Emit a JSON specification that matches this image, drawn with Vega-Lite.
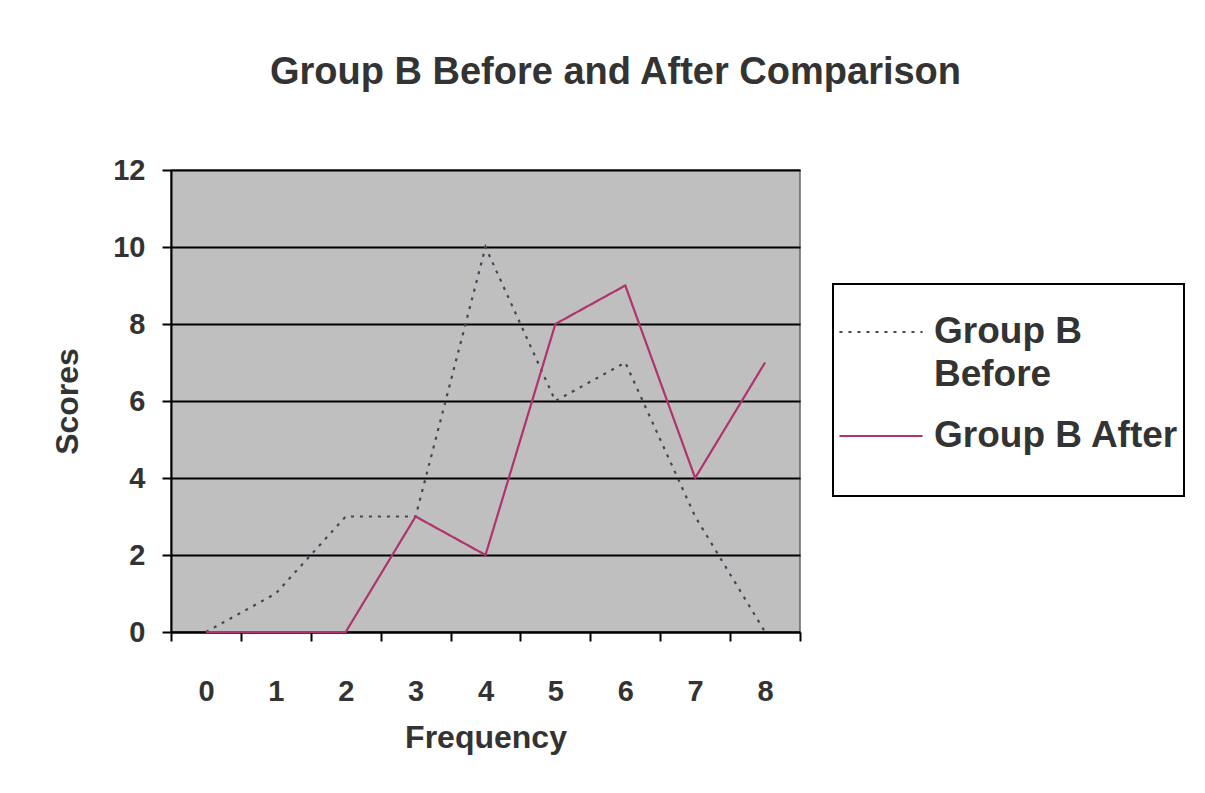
{
  "$schema": "https://vega.github.io/schema/vega-lite/v6.json",
  "autosize": "none",
  "padding": {"left": 171, "top": 170, "right": 405, "bottom": 161},
  "width": 629,
  "height": 462,
  "background": "white",
  "title": {
    "text": "Group B Before and After Comparison",
    "font": "Liberation Sans",
    "fontSize": 38,
    "fontWeight": "bold",
    "color": "#333333",
    "anchor": "middle",
    "frame": "group",
    "dx": 130,
    "offset": 64
  },
  "data": {
    "values": [
      {"freq": 0, "series": "Group B Before", "score": 0},
      {"freq": 1, "series": "Group B Before", "score": 1},
      {"freq": 2, "series": "Group B Before", "score": 3},
      {"freq": 3, "series": "Group B Before", "score": 3},
      {"freq": 4, "series": "Group B Before", "score": 10},
      {"freq": 5, "series": "Group B Before", "score": 6},
      {"freq": 6, "series": "Group B Before", "score": 7},
      {"freq": 7, "series": "Group B Before", "score": 3},
      {"freq": 8, "series": "Group B Before", "score": 0},
      {"freq": 0, "series": "Group B After", "score": 0},
      {"freq": 1, "series": "Group B After", "score": 0},
      {"freq": 2, "series": "Group B After", "score": 0},
      {"freq": 3, "series": "Group B After", "score": 3},
      {"freq": 4, "series": "Group B After", "score": 2},
      {"freq": 5, "series": "Group B After", "score": 8},
      {"freq": 6, "series": "Group B After", "score": 9},
      {"freq": 7, "series": "Group B After", "score": 4},
      {"freq": 8, "series": "Group B After", "score": 7}
    ]
  },
  "mark": {"type": "line", "strokeWidth": 2.2},
  "encoding": {
    "x": {
      "field": "freq",
      "type": "quantitative",
      "scale": {"domain": [-0.5, 8.5], "nice": false, "zero": false},
      "axis": {
        "title": "Frequency",
        "values": [-0.5, 0, 0.5, 1, 1.5, 2, 2.5, 3, 3.5, 4, 4.5, 5, 5.5, 6, 6.5, 7, 7.5, 8, 8.5],
        "labelExpr": "datum.value % 1 == 0 ? format(datum.value, 'd') : ''",
        "tickOpacity": {"condition": {"test": "datum.value % 1 != 0", "value": 1}, "value": 0},
        "grid": false,
        "tickSize": 9,
        "tickWidth": 2,
        "tickColor": "black",
        "domainColor": "black",
        "domainWidth": 2,
        "labelPadding": 36,
        "labelFont": "Liberation Sans",
        "labelFontSize": 29,
        "labelFontWeight": "bold",
        "labelColor": "#333333",
        "labelFlush": false,
        "labelOverlap": false,
        "titleFont": "Liberation Sans",
        "titleFontSize": 32,
        "titleFontWeight": "bold",
        "titleColor": "#333333",
        "titlePadding": 16
      }
    },
    "y": {
      "field": "score",
      "type": "quantitative",
      "scale": {"domain": [0, 12], "nice": false},
      "axis": {
        "title": "Scores",
        "values": [0, 2, 4, 6, 8, 10, 12],
        "grid": true,
        "gridColor": "black",
        "gridWidth": 2,
        "gridOpacity": 1,
        "tickSize": 9,
        "tickWidth": 2,
        "tickColor": "black",
        "domainColor": "black",
        "domainWidth": 2,
        "labelPadding": 17,
        "labelFont": "Liberation Sans",
        "labelFontSize": 29,
        "labelFontWeight": "bold",
        "labelColor": "#333333",
        "labelFlush": false,
        "titleFont": "Liberation Sans",
        "titleFontSize": 32,
        "titleFontWeight": "bold",
        "titleColor": "#333333",
        "titlePadding": 28
      }
    },
    "color": {
      "field": "series",
      "type": "nominal",
      "scale": {"domain": ["Group B Before", "Group B After"], "range": ["#45455a", "#b0326e"]},
      "legend": {
        "title": " ",
        "labelExpr": "datum.label == 'Group B Before' ? ['Group B', 'Before'] : datum.label",
        "encode": {"labels": {"update": {"lineHeight": {"value": 43}}}}
      }
    },
    "strokeDash": {
      "field": "series",
      "type": "nominal",
      "scale": {"domain": ["Group B Before", "Group B After"], "range": [[3, 6], [1, 0]]},
      "legend": {
        "title": " ",
        "labelExpr": "datum.label == 'Group B Before' ? ['Group B', 'Before'] : datum.label",
        "encode": {"labels": {"update": {"lineHeight": {"value": 43}}}}
      }
    }
  },
  "config": {
    "view": {"fill": "#bfbfbf", "stroke": "#666666", "strokeWidth": 1.5},
    "legend": {
      "orient": "none",
      "legendX": 662,
      "legendY": 114,
      "direction": "vertical",
      "fillColor": "white",
      "strokeColor": "black",
      "strokeWidth": 2,
      "padding": 5,
      "titleOrient": "bottom",
      "titleFontSize": 30,
      "titlePadding": 7,
      "symbolType": "stroke",
      "symbolSize": 6900,
      "symbolStrokeWidth": 2,
      "labelFont": "Liberation Sans",
      "labelFontSize": 37,
      "labelFontWeight": "bold",
      "labelColor": "#333333",
      "labelOffset": 10,
      "labelLimit": 400,
      "rowPadding": 0
    }
  }
}
